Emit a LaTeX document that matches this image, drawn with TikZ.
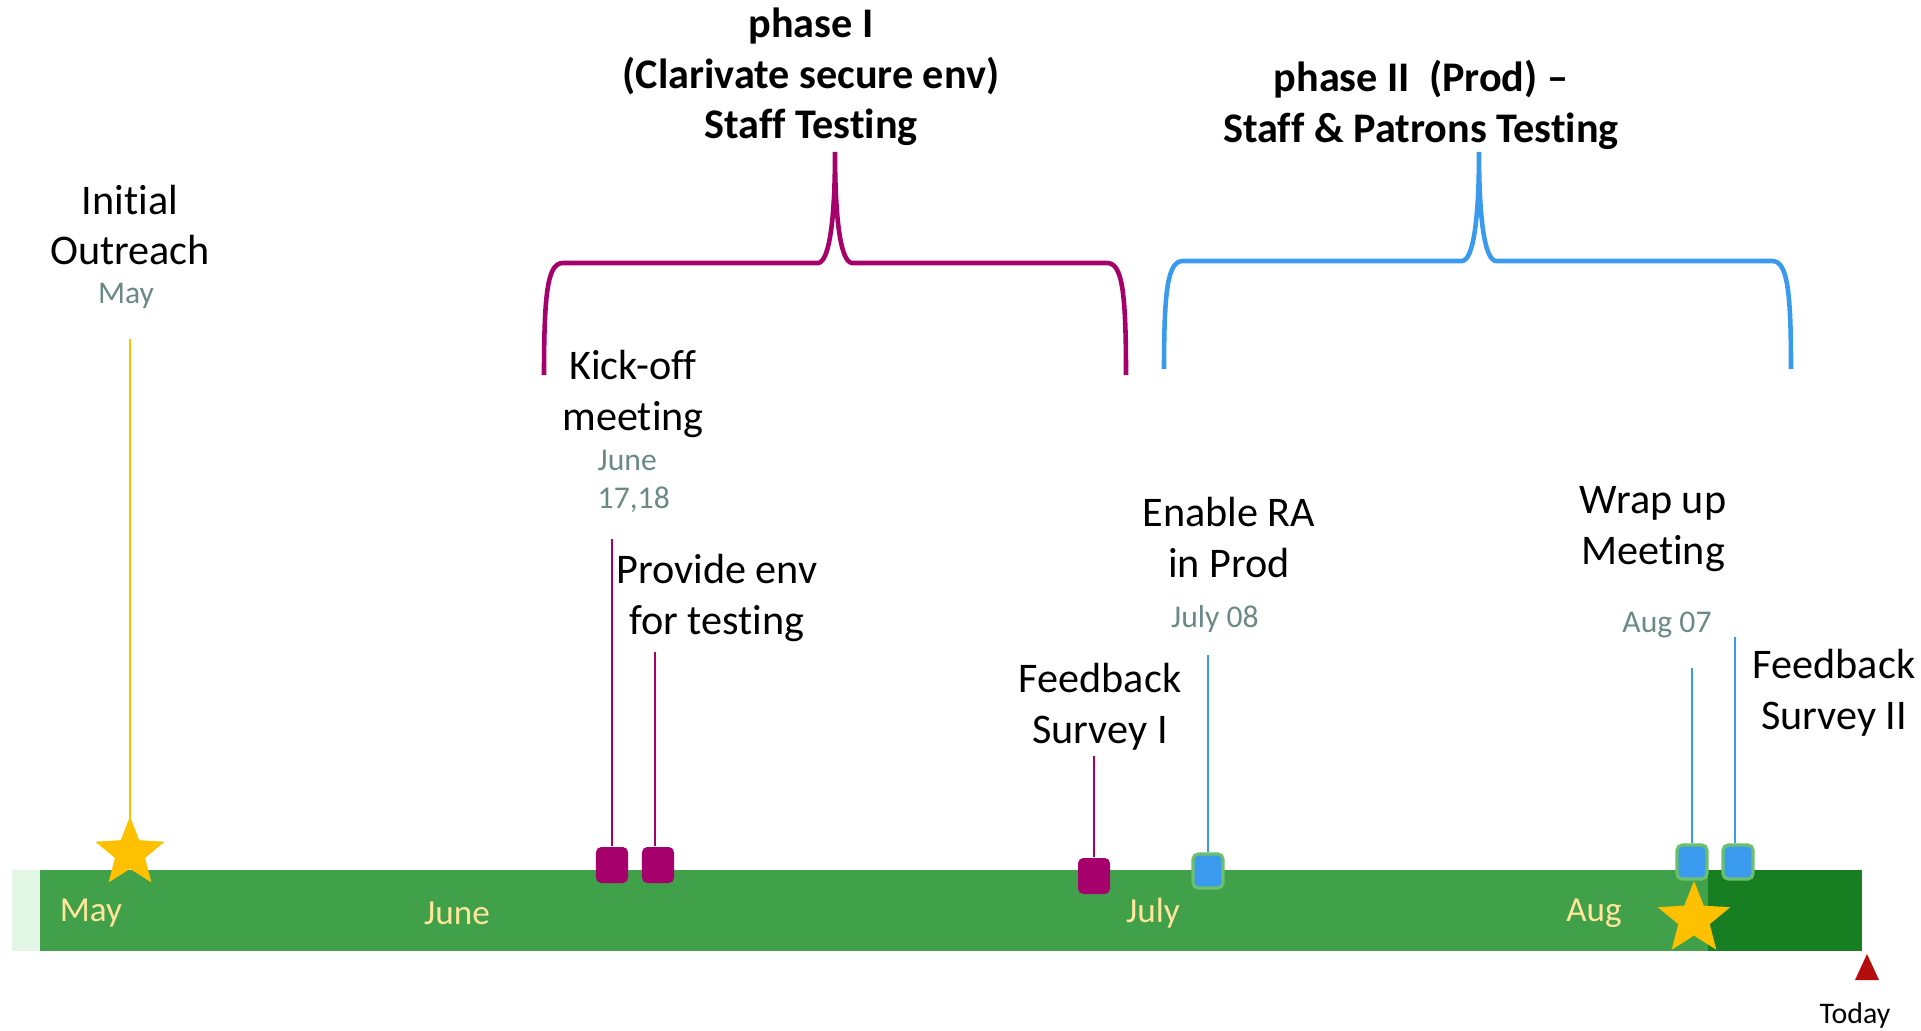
\documentclass[tikz,border=0pt]{standalone}
\usepackage{fontspec}
\setmainfont{Carlito}[Ligatures=NoCommon]
\usetikzlibrary{shapes.geometric}
\definecolor{purp}{HTML}{A5006B}
\definecolor{skyb}{HTML}{3A9BEE}
\definecolor{gold}{HTML}{FFC000}
\definecolor{barg}{HTML}{41A04A}
\definecolor{darkg}{HTML}{177E21}
\definecolor{paleg}{HTML}{E2F6E6}
\definecolor{monthy}{HTML}{FFE699}
\definecolor{dategray}{HTML}{6A8A86}
\definecolor{todayred}{HTML}{B30D0D}
\definecolor{edgeg}{HTML}{6CBF6C}
\tikzset{
  label12/.style={align=center, font=\fontsize{12}{14.5}\selectfont, inner sep=0pt},
  head12/.style={align=center, font=\fontsize{12}{14.3}\selectfont\bfseries, inner sep=0pt},
  datelbl/.style={align=left, font=\fontsize{9}{10.8}\selectfont, text=dategray, inner sep=0pt},
  monthlbl/.style={font=\fontsize{10}{12}\selectfont, text=monthy, inner sep=0pt},
  pbox/.style={rounded corners=1.5pt, fill=purp, minimum width=0.32cm, minimum height=0.36cm, inner sep=0pt},
  bbox/.style={rounded corners=1.5pt, fill=skyb, draw=edgeg, line width=0.9pt, minimum width=0.30cm, minimum height=0.34cm, inner sep=0pt},
  goldstar/.style={star, star points=5, star point ratio=2.3, fill=gold, inner sep=0pt},
  pline/.style={purp, line width=0.6pt},
  bline/.style={skyb, line width=0.6pt},
  brace/.style={line width=1.3pt, line cap=butt},
}
\begin{document}
\begin{tikzpicture}[x=0.01cm, y=-0.01cm]
\useasboundingbox (0,0) rectangle (1921,1030);

% timeline bar
\fill[paleg] (12,870) rectangle (40,951);
\fill[barg] (40,870) rectangle (1708,951);
\fill[darkg] (1708,870) rectangle (1862,951);

\node[monthlbl] (mmay) at (91,913) {May};
\node[monthlbl] (mjune) at (457,913) {June};
\node[monthlbl] (mjuly) at (1153,913) {July};
\node[monthlbl] (maug) at (1594,913) {Aug};

% phase I brace
\draw[brace, purp] (544,375) .. controls (544,290) and (548,263) .. (563,263)
  -- (818,263) .. controls (830,262) and (835,215) .. (835,152)
  .. controls (835,215) and (840,262) .. (852,263)
  -- (1107,263) .. controls (1122,263) and (1126,290) .. (1126,375);
\node[head12] (ph1) at (811,77) {phase I\\(Clarivate secure env)\\Staff Testing};

% phase II brace
\draw[brace, skyb] (1164,369) .. controls (1164,288) and (1168,261) .. (1183,261)
  -- (1462,261) .. controls (1474,260) and (1479,215) .. (1479,152)
  .. controls (1479,215) and (1484,260) .. (1496,261)
  -- (1772,261) .. controls (1787,261) and (1791,288) .. (1791,369);
\node[head12] (ph2) at (1421,105) {phase II\ \ (Prod) --\\Staff \& Patrons Testing};

% initial outreach
\node[label12] (io) at (130,225) {Initial\\Outreach};
\node[datelbl] (iodate) at (126,296) {May};
\coordinate (iotop) at (130,339);
\node[goldstar, minimum size=0.72cm] (star1) at (130,853) {};
\draw[gold, line width=0.8pt] (iotop) -- (star1.center);
\node[goldstar, minimum size=0.72cm] at (130,853) {};

% kick-off meeting
\node[label12] (ko) at (633,394) {Kick-off\\meeting};
\node[datelbl, anchor=west] (kodate) at (597,481) {June\\17,18};
\coordinate (kotop) at (612,539);
\node[pbox] (kobox) at (612,865) {};
\draw[pline] (kotop) -- (kotop |- kobox.north);

% provide env
\node[label12] (pe) at (717,598) {Provide env\\for testing};
\coordinate (petop) at (655,652);
\node[pbox] (pebox) at (658,865) {};
\draw[pline] (petop) -- (petop |- pebox.north);

% feedback survey I
\node[label12] (fb1) at (1100,707) {Feedback\\Survey I};
\coordinate (fb1top) at (1094,756);
\node[pbox] (fb1box) at (1094,876) {};
\draw[pline] (fb1top) -- (fb1box.north);

% enable RA
\node[label12] (ra) at (1229,537) {Enable RA\\in Prod};
\node[datelbl] (radate) at (1215,619) {July 08};
\coordinate (ratop) at (1208,655);
\node[bbox] (rabox) at (1208,871) {};
\draw[bline] (ratop) -- (rabox.north);

% wrap up
\node[goldstar, minimum size=0.76cm] (star2) at (1694,919) {};
\node[label12] (wu) at (1653,529) {Wrap up\\Meeting};
\node[datelbl] (wudate) at (1667,625) {Aug 07};
\coordinate (wutop) at (1692,668);
\node[bbox] (wubox) at (1692,862) {};
\draw[bline] (wutop) -- (wubox.north);

% feedback survey II
\node[label12] (fb2) at (1834,693) {Feedback\\Survey II};
\coordinate (fb2top) at (1735,637);
\node[bbox] (fb2box) at (1738,862) {};
\draw[bline] (fb2top) -- (fb2top |- fb2box.north);

% today marker
\fill[todayred] (1867,954) -- (1879,980) -- (1855,980) -- cycle;
\node[font=\fontsize{8.5}{10}\selectfont, inner sep=0pt] (today) at (1855,1016) {Today};
\end{tikzpicture}
\end{document}
